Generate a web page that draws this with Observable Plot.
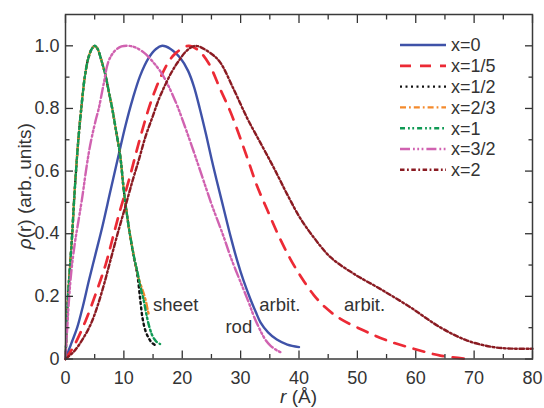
<!DOCTYPE html>
<html>
<head>
<meta charset="utf-8">
<script src="https://cdn.jsdelivr.net/npm/d3@7"></script>
<script src="https://cdn.jsdelivr.net/npm/@observablehq/plot@0.6"></script>
<style>
  body { margin: 0; background: #fff; }
  #chart svg { display: block; }
</style>
</head>
<body>
<div id="chart"></div>
<script>
// Pair distribution functions p(r) for different shape exponents x
const seriesNames = ["x=0", "x=1/5", "x=1/2", "x=2/3", "x=1", "x=3/2", "x=2"];
const seriesColors = ["#3f52a8", "#ec2a35", "#111111", "#f48a2c", "#109a55", "#d062b0", "#8a1b22"];
const seriesDash = [null, "11,9", "2,3.5", "6,3,1.8,3", "5,3,1.8,2.5,1.8,3", "10,3,1.8,2.5,1.8,2.5,1.8,3", "4.5,2.5,1.8,2.5"];
const seriesWidth = [2.4, 2.7, 2.4, 2.4, 2.4, 2.4, 2.4];

// x = 0
const r0 = [0, 1, 2, 3, 4, 5.14, 6.28, 7.7, 9.13, 10.27, 11.5, 12.8, 14.2, 15.5, 16.55, 18.0, 19.7, 21.0, 22.0, 23.0, 24.1, 25.0, 25.9, 27.1, 28.3, 29.4, 30.5, 31.7, 32.6, 33.4, 34.7, 36.2, 38, 40];
const p0 = [0, 0.05, 0.10, 0.17, 0.25, 0.335, 0.42, 0.537, 0.654, 0.745, 0.83, 0.905, 0.96, 0.99, 1.0, 0.99, 0.96, 0.92, 0.87, 0.80, 0.715, 0.64, 0.57, 0.48, 0.39, 0.315, 0.25, 0.19, 0.15, 0.117, 0.085, 0.062, 0.046, 0.038];

// x = 1/5
const r15 = [0, 1.4, 3.4, 5.4, 6.85, 8.0, 9.13, 10.85, 12.55, 14.26, 15.4, 16.55, 17.7, 18.8, 21.1, 22.8, 24.5, 26.5, 28.3, 30.0, 31.4, 32.8, 34.5, 36.5, 38.5, 40.5, 42.5, 44.5, 47.1, 51.1, 55.1, 59.6, 64.2, 69];
const p15 = [0, 0.04, 0.12, 0.22, 0.30, 0.38, 0.46, 0.57, 0.69, 0.80, 0.86, 0.91, 0.95, 0.975, 1.0, 0.985, 0.945, 0.862, 0.787, 0.702, 0.628, 0.553, 0.479, 0.394, 0.32, 0.258, 0.205, 0.165, 0.128, 0.091, 0.059, 0.033, 0.011, 0];

// x = 1/2
const r12 = [0, 0.17, 0.4, 0.75, 1.15, 1.45, 1.8, 2.2, 2.7, 3.3, 3.9, 4.5, 5.0, 5.5, 6.2, 6.8, 7.4, 8.0, 8.56, 9.4, 10.0, 10.85, 11.7, 12.3, 12.8, 13.2, 13.7, 14.3, 14.8, 15.3];
const p12 = [0, 0.08, 0.19, 0.29, 0.4, 0.5, 0.6, 0.7, 0.8, 0.9, 0.96, 0.99, 1.0, 0.99, 0.95, 0.91, 0.856, 0.80, 0.74, 0.644, 0.537, 0.42, 0.325, 0.27, 0.19, 0.13, 0.09, 0.065, 0.052, 0.045];

// x = 2/3
const r23 = [0, 0.17, 0.4, 0.75, 1.15, 1.45, 1.8, 2.2, 2.7, 3.3, 3.9, 4.5, 5.0, 5.5, 6.2, 6.8, 7.4, 8.0, 8.56, 9.4, 10.0, 10.85, 11.7, 12.55, 13.2, 13.7, 14.1, 14.3];
const p23 = [0, 0.08, 0.19, 0.29, 0.4, 0.5, 0.6, 0.7, 0.8, 0.9, 0.96, 0.99, 1.0, 0.99, 0.95, 0.91, 0.856, 0.80, 0.74, 0.644, 0.537, 0.42, 0.33, 0.256, 0.22, 0.19, 0.155, 0.14];

// x = 1
const r1 = [0, 0.17, 0.4, 0.75, 1.15, 1.45, 1.8, 2.2, 2.7, 3.3, 3.9, 4.5, 5.0, 5.5, 6.2, 6.8, 7.4, 8.0, 8.56, 9.4, 10.0, 10.85, 11.7, 12.3, 12.84, 13.4, 13.9, 14.4, 15.0, 15.6, 16.2];
const p1 = [0, 0.08, 0.19, 0.29, 0.4, 0.5, 0.6, 0.7, 0.8, 0.9, 0.96, 0.99, 1.0, 0.99, 0.95, 0.91, 0.856, 0.80, 0.74, 0.644, 0.537, 0.42, 0.33, 0.28, 0.23, 0.187, 0.139, 0.10, 0.07, 0.055, 0.048];

// x = 3/2
const r32 = [0, 0.3, 0.6, 1.0, 1.6, 2.3, 2.9, 3.5, 4.2, 5.14, 5.7, 6.5, 7.4, 8.5, 9.6, 10.85, 12.2, 13.7, 15.0, 16.55, 18.8, 20.5, 22.3, 24.0, 25.1, 26.1, 27.1, 28.3, 30.0, 31.4, 32.3, 33.4, 34.3, 35.1, 36.0, 36.8];
const p32 = [0, 0.1, 0.19, 0.28, 0.37, 0.45, 0.52, 0.6, 0.68, 0.76, 0.80, 0.875, 0.952, 0.985, 0.998, 1.0, 0.993, 0.974, 0.948, 0.91, 0.824, 0.74, 0.644, 0.55, 0.49, 0.44, 0.39, 0.325, 0.245, 0.18, 0.135, 0.09, 0.06, 0.043, 0.03, 0.022];

// x = 2
const r2 = [0, 1.5, 3.0, 4.3, 5.5, 6.7, 7.7, 8.85, 10.3, 11.5, 12.55, 13.7, 14.85, 16.0, 17.1, 18.3, 19.4, 20.8, 22.3, 25.1, 26.5, 28.8, 31.1, 33.4, 35.7, 38.0, 40.2, 42.5, 45.4, 49.4, 53.9, 59.1, 64.2, 68.8, 73.3, 76.8, 80];
const p2 = [0, 0.025, 0.065, 0.11, 0.17, 0.245, 0.315, 0.395, 0.49, 0.57, 0.635, 0.71, 0.77, 0.83, 0.876, 0.92, 0.952, 0.985, 1.0, 0.973, 0.947, 0.862, 0.77, 0.69, 0.61, 0.525, 0.45, 0.389, 0.325, 0.272, 0.224, 0.165, 0.101, 0.059, 0.038, 0.033, 0.033];

const seriesR = [r0, r15, r12, r23, r1, r32, r2];
const seriesP = [p0, p15, p12, p23, p1, p32, p2];

// Shape annotations
const noteText = ["sheet", "rod", "arbit.", "arbit."];
const noteR = [15.0, 27.4, 33.2, 47.7];
const noteP = [0.172, 0.103, 0.172, 0.172];

// Axis ticks
const xMajor = [0, 10, 20, 30, 40, 50, 60, 70, 80];
const xMinor = [5, 15, 25, 35, 45, 55, 65, 75];
const yMajor = [0, 0.2, 0.4, 0.6, 0.8, 1.0];
const yMinor = [0.1, 0.3, 0.5, 0.7, 0.9];
const yTickLabels = ["0", "0.2", "0.4", "0.6", "0.8", "1.0"];

const FONT = "'Liberation Sans', Arial, Helvetica, sans-serif";
const INK = "#333";

const curves = seriesNames.map((name, i) => {
  const rows = seriesR[i].map((r, j) => ({r, p: seriesP[i][j]}));
  return Plot.line(rows, {
    x: "r", y: "p",
    curve: "catmull-rom",
    stroke: seriesColors[i],
    strokeWidth: seriesWidth[i],
    strokeDasharray: seriesDash[i] ?? undefined
  });
});

const notes = noteText.map((t, i) => ({t, r: noteR[i], p: noteP[i]}));

// Legend inside the frame, top right
function legendMark(index, scales, values, dims) {
  const g = d3.create("svg:g")
    .attr("font-family", FONT).attr("font-size", 18).attr("fill", INK)
    .attr("text-anchor", "start");
  const x0 = dims.width - dims.marginRight - 132;
  seriesNames.forEach((name, i) => {
    const y = 45 + i * 20.8;
    const line = g.append("line")
      .attr("x1", x0).attr("x2", x0 + 46).attr("y1", y).attr("y2", y)
      .attr("stroke", seriesColors[i]).attr("stroke-width", seriesWidth[i]);
    if (seriesDash[i]) line.attr("stroke-dasharray", seriesDash[i]);
    g.append("text").attr("x", x0 + 51).attr("y", y).attr("dy", "0.36em")
      .attr("text-anchor", "start").text(name);
  });
  return g.node();
}

// Axis titles with italic symbols
function titleMark(index, scales, values, dims) {
  const g = d3.create("svg:g").attr("font-family", FONT).attr("font-size", 19).attr("fill", INK);
  const cx = (dims.marginLeft + dims.width - dims.marginRight) / 2;
  const xt = g.append("text").attr("x", cx).attr("y", dims.height - 5).attr("text-anchor", "middle");
  xt.append("tspan").attr("font-style", "italic").text("r");
  xt.append("tspan").text(" (Å)");
  const cy = (dims.marginTop + dims.height - dims.marginBottom) / 2;
  const yt = g.append("text").attr("text-anchor", "middle")
    .attr("transform", `translate(31,${cy}) rotate(-90)`);
  yt.append("tspan").attr("font-style", "italic").text("ρ");
  yt.append("tspan").text("(r) (arb. units)");
  return g.node();
}

const tickStyle = {stroke: INK, strokeWidth: 1.3, label: null, tickFormat: () => ""};

const chart = Plot.plot({
  width: 544,
  height: 408,
  marginTop: 14,
  marginRight: 12,
  marginBottom: 49.5,
  marginLeft: 65,
  x: {domain: [0, 80]},
  y: {domain: [0, 1.1]},
  style: {fontFamily: FONT, fontSize: "18px", color: INK, background: "#fff"},
  marks: [
    ...curves,
    Plot.text(notes, {x: "r", y: "p", text: "t", textAnchor: "start", lineAnchor: "middle", fontSize: 18.5, fill: INK}),
    // inward ticks on all four sides
    Plot.axisX(xMajor, {...tickStyle, anchor: "bottom", tickSize: -8}),
    Plot.axisX(xMinor, {...tickStyle, anchor: "bottom", tickSize: -4.5}),
    Plot.axisX(xMajor, {...tickStyle, anchor: "top", tickSize: -8}),
    Plot.axisX(xMinor, {...tickStyle, anchor: "top", tickSize: -4.5}),
    Plot.axisY(yMajor, {...tickStyle, anchor: "left", tickSize: -8}),
    Plot.axisY(yMinor, {...tickStyle, anchor: "left", tickSize: -4.5}),
    Plot.axisY(yMajor, {...tickStyle, anchor: "right", tickSize: -8}),
    Plot.axisY(yMinor, {...tickStyle, anchor: "right", tickSize: -4.5}),
    // tick labels
    Plot.axisX(xMajor, {anchor: "bottom", tickSize: 0, tickPadding: 12, label: null, fill: INK, fontSize: 18, tickFormat: d => String(d)}),
    Plot.axisY(yMajor, {anchor: "left", tickSize: 0, tickPadding: 6, label: null, fill: INK, fontSize: 18, tickFormat: (d, i) => yTickLabels[i]}),
    Plot.frame({stroke: "#3a3a3a", strokeWidth: 1.5}),
    legendMark,
    titleMark
  ]
});

document.getElementById("chart").appendChild(chart);
</script>
</body>
</html>
